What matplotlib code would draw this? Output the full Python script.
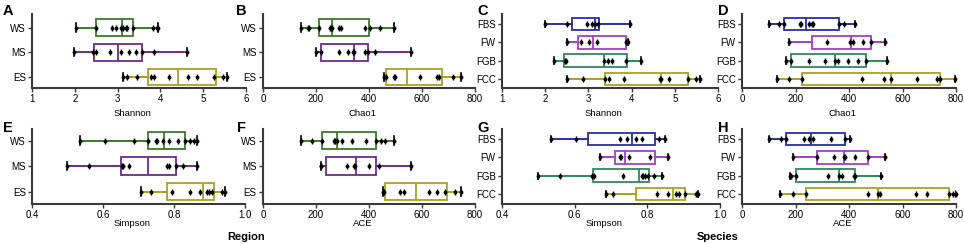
import matplotlib
matplotlib.use('Agg')
import matplotlib.pyplot as plt

plt.rcParams['font.family'] = ['Liberation Sans', 'DejaVu Sans']

region_groups = ['WS', 'MS', 'ES']
species_groups = ['FBS', 'FW', 'FGB', 'FCC']
region_colors = ['#3d7a2e', '#6a2d8a', '#a6a221']
species_colors = ['#2b2f9e', '#a53fc4', '#2e8a5c', '#a6a221']

# five-number summaries per group: [min, q1, median, q3, max]
shannon_region_box = [[2.02, 2.5, 3.1, 3.37, 3.95], [1.99, 2.45, 3.02, 3.58, 4.62], [3.12, 3.72, 4.42, 5.31, 5.56]]
shannon_region_pts = [[2.02, 2.5, 2.86, 2.96, 3.08, 3.13, 3.19, 3.23, 3.37, 3.82, 3.93, 3.95],
                      [1.99, 2.42, 2.5, 2.82, 3.08, 3.27, 3.44, 3.58, 3.85, 4.62],
                      [3.12, 3.22, 3.45, 3.79, 3.85, 4.19, 4.64, 4.85, 5.25, 5.46, 5.56]]

chao1_region_box = [[142, 210, 262, 400, 494], [199, 220, 343, 398, 557], [456, 466, 544, 676, 746]]
chao1_region_pts = [[142, 171, 175, 210, 252, 257, 262, 285, 293, 384, 404, 441, 494],
                    [201, 220, 288, 321, 340, 344, 384, 397, 424, 557],
                    [456, 466, 495, 497, 592, 657, 665, 718, 746]]

shannon_species_box = [[2.0, 2.62, 3.15, 3.24, 3.97], [2.5, 2.75, 3.11, 3.87, 3.91],
                       [2.21, 2.44, 3.35, 3.89, 4.22], [2.5, 3.38, 4.67, 5.31, 5.58]]
shannon_species_pts = [[2.0, 2.5, 2.97, 3.08, 3.15, 3.23, 3.96],
                       [2.5, 2.84, 3.02, 3.2, 3.87, 3.91],
                       [2.21, 2.46, 2.49, 3.35, 3.45, 3.54, 3.87, 4.22],
                       [2.5, 2.87, 3.38, 3.48, 3.82, 4.65, 4.68, 4.87, 5.31, 5.48, 5.58]]

chao1_species_box = [[100, 156, 240, 364, 424], [174, 263, 407, 482, 535],
                     [163, 183, 349, 465, 542], [131, 226, 557, 741, 795]]
chao1_species_pts = [[100, 137, 156, 218, 222, 249, 262, 266, 364, 383, 424],
                     [174, 318, 405, 415, 452, 482, 535],
                     [163, 183, 252, 312, 349, 358, 396, 434, 465, 542],
                     [131, 174, 226, 449, 530, 557, 654, 729, 741, 795]]

simpson_region_box = [[0.536, 0.727, 0.771, 0.83, 0.864], [0.5, 0.652, 0.727, 0.805, 0.864],
                      [0.706, 0.779, 0.882, 0.914, 0.943]]
simpson_region_pts = [[0.536, 0.606, 0.686, 0.727, 0.748, 0.753, 0.768, 0.785, 0.812, 0.83, 0.844, 0.855, 0.864],
                      [0.5, 0.561, 0.653, 0.655, 0.673, 0.779, 0.786, 0.805, 0.825, 0.864],
                      [0.706, 0.735, 0.793, 0.845, 0.873, 0.894, 0.9, 0.906, 0.936, 0.943]]

ace_region_box = [[142, 224, 281, 428, 494], [218, 239, 350, 428, 557], [453, 460, 579, 695, 749]]
ace_region_pts = [[142, 184, 224, 267, 273, 281, 298, 334, 390, 428, 447, 462, 494],
                  [218, 220, 317, 343, 348, 400, 438, 557],
                  [451, 456, 516, 531, 627, 655, 686, 724, 749]]

simpson_species_box = [[0.535, 0.637, 0.758, 0.822, 0.848], [0.669, 0.71, 0.739, 0.822, 0.857],
                       [0.498, 0.651, 0.778, 0.804, 0.84], [0.685, 0.769, 0.871, 0.904, 0.94]]
simpson_species_pts = [[0.535, 0.605, 0.725, 0.745, 0.77, 0.785, 0.833, 0.848],
                       [0.669, 0.724, 0.728, 0.749, 0.807, 0.857],
                       [0.498, 0.56, 0.649, 0.653, 0.734, 0.785, 0.789, 0.793, 0.801, 0.819, 0.84],
                       [0.685, 0.705, 0.826, 0.858, 0.88, 0.888, 0.904, 0.933, 0.94]]

ace_species_box = [[100, 166, 258, 386, 402], [189, 280, 383, 471, 533],
                   [181, 203, 361, 424, 520], [143, 240, 510, 775, 800]]
ace_species_pts = [[100, 146, 166, 231, 249, 266, 333, 386, 402],
                   [189, 280, 343, 383, 386, 424, 471, 533],
                   [181, 183, 203, 320, 361, 374, 418, 424, 520],
                   [143, 190, 240, 470, 510, 515, 650, 690, 775, 790, 800]]

W, H = 964, 244
fig = plt.figure(figsize=(W / 100, H / 100), dpi=100)


def px_axes(x0, x1, y0, y1):
    return fig.add_axes([x0 / W, 1 - y1 / H, (x1 - x0) / W, (y1 - y0) / H])


def draw(ax, groups, colors, boxes, pts, xlim, xticks, xticklabels, xlabel, ylim, label_y):
    n = len(groups)
    positions = list(range(n, 0, -1))
    stats = []
    for g, b in zip(groups, boxes):
        stats.append(dict(label=g, whislo=b[0], q1=b[1], med=b[2], q3=b[3], whishi=b[4], fliers=[]))
    bp = ax.bxp(stats, positions=positions, vert=False, widths=0.68, showfliers=False,
                patch_artist=True, manage_ticks=False)
    for i, c in enumerate(colors):
        bp['boxes'][i].set(facecolor='white', edgecolor=c, linewidth=1.3)
        bp['medians'][i].set(color=c, linewidth=1.3)
        for w in bp['whiskers'][2 * i:2 * i + 2]:
            w.set(color=c, linewidth=1.4)
        for cp in bp['caps'][2 * i:2 * i + 2]:
            cp.set(color='black', linewidth=1.2)
    for pos, p in zip(positions, pts):
        ax.plot(p, [pos] * len(p), linestyle='none', marker='|', color='black', ms=4, mew=1.0,
                zorder=5, clip_on=False)
        ax.plot(p, [pos] * len(p), linestyle='none', marker='o', color='black', ms=1.8,
                zorder=5, clip_on=False)
    ax.set_xlim(*xlim)
    ax.set_ylim(*ylim)
    ax.set_xticks(xticks)
    ax.set_xticklabels(xticklabels)
    ax.set_yticks(positions)
    ax.set_yticklabels(groups)
    for s in ['top', 'right']:
        ax.spines[s].set_visible(False)
    for s in ['left', 'bottom']:
        ax.spines[s].set_linewidth(1.5)
        ax.spines[s].set_color('#3a3a3a')
    ax.tick_params(axis='both', length=3, width=1, color='#3a3a3a', labelsize=7, pad=1.5)
    ax.set_xlabel(xlabel, fontsize=6.8)
    ax.xaxis.set_label_coords(0.47, label_y)


sh_ticks = [1, 2, 3, 4, 5, 6]
ch_ticks = [0, 200, 400, 600, 800]
si_ticks = [0.4, 0.6, 0.8, 1.0]
si_labels = ['0.4', '0.6', '0.8', '1.0']

r1 = (14, 88)
r2 = (129, 204)
A = px_axes(32, 246, *r1)
draw(A, region_groups, region_colors, shannon_region_box, shannon_region_pts, (1, 6), sh_ticks,
     [str(t) for t in sh_ticks], 'Shannon', (0.55, 3.55), -0.28)
B = px_axes(263, 475, *r1)
draw(B, region_groups, region_colors, chao1_region_box, chao1_region_pts, (0, 800), ch_ticks,
     [str(t) for t in ch_ticks], 'Chao1', (0.55, 3.55), -0.28)
C = px_axes(502, 718, *r1)
draw(C, species_groups, species_colors, shannon_species_box, shannon_species_pts, (1, 6), sh_ticks,
     [str(t) for t in sh_ticks], 'Shannon', (0.5, 4.55), -0.28)
D = px_axes(742, 956, *r1)
draw(D, species_groups, species_colors, chao1_species_box, chao1_species_pts, (0, 800), ch_ticks,
     [str(t) for t in ch_ticks], 'Chao1', (0.5, 4.55), -0.28)
E = px_axes(32, 245, *r2)
draw(E, region_groups, region_colors, simpson_region_box, simpson_region_pts, (0.4, 1.0), si_ticks,
     si_labels, 'Simpson', (0.52, 3.45), -0.2)
F = px_axes(263, 475, *r2)
draw(F, region_groups, region_colors, ace_region_box, ace_region_pts, (0, 800), ch_ticks,
     [str(t) for t in ch_ticks], 'ACE', (0.52, 3.45), -0.2)
G = px_axes(502, 720, *r2)
draw(G, species_groups, species_colors, simpson_species_box, simpson_species_pts, (0.4, 1.0), si_ticks,
     si_labels, 'Simpson', (0.45, 4.55), -0.2)
Hx = px_axes(742, 956, *r2)
draw(Hx, species_groups, species_colors, ace_species_box, ace_species_pts, (0, 800), ch_ticks,
     [str(t) for t in ch_ticks], 'ACE', (0.45, 4.55), -0.2)

letters = [('A', 8, 11), ('B', 241, 11), ('C', 483, 11), ('D', 723, 11),
           ('E', 8, 128), ('F', 241, 128), ('G', 483, 128), ('H', 723, 128)]
for t, x, y in letters:
    fig.text(x / W, 1 - y / H, t, fontsize=10.5, fontweight='bold', ha='center', va='center')

fig.text(246 / W, 1 - 237 / H, 'Region', fontsize=8, fontweight='bold', ha='center', va='center')
fig.text(718 / W, 1 - 237 / H, 'Species', fontsize=8, fontweight='bold', ha='center', va='center')

fig.savefig('out.png', dpi=100)
